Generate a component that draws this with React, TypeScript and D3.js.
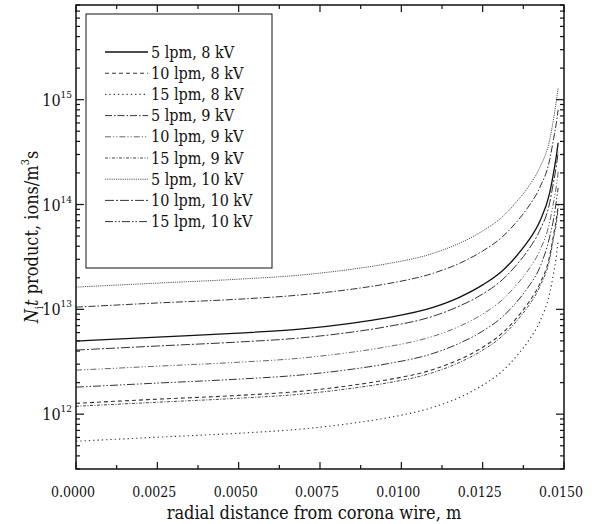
import { useMemo } from "react";
import * as d3 from "d3";

// radial positions (m) where the curves were read
const radius = [
  0, 0.0025, 0.005, 0.00688, 0.0085, 0.0095, 0.011, 0.0118, 0.0125, 0.0131, 0.01354, 0.0139, 0.01425, 0.01456,
  0.01468, 0.01477, 0.01482,
];

const lpm5kv8 = [4.98e12, 5.44e12, 5.94e12, 6.48e12, 7.4e12, 8.26e12, 1.05e13, 1.31e13, 1.71e13, 2.32e13, 3.23e13, 4.49e13, 6.84e13, 1.29e14, 2.01e14, 2.98e14, 3.88e14];
const lpm10kv8 = [1.27e12, 1.39e12, 1.51e12, 1.65e12, 1.89e12, 2.11e12, 2.68e12, 3.34e12, 4.35e12, 5.92e12, 8.23e12, 1.15e13, 1.74e13, 3.23e13, 5.12e13, 7.45e13, 9.91e13];
const lpm15kv8 = [5.52e11, 6.03e11, 6.58e11, 7.19e11, 8.2e11, 9.16e11, 1.17e12, 1.45e12, 1.89e12, 2.57e12, 3.58e12, 4.98e12, 7.58e12, 1.43e13, 2.22e13, 3.3e13, 4.59e13];
const lpm5kv9 = [1.05e13, 1.15e13, 1.25e13, 1.37e13, 1.56e13, 1.74e13, 2.22e13, 2.76e13, 3.6e13, 4.9e13, 6.81e13, 9.47e13, 1.44e14, 2.67e14, 4.23e14, 6.15e14, 8.01e14];
const lpm10kv9 = [2.63e12, 2.87e12, 3.13e12, 3.42e12, 3.91e12, 4.36e12, 5.56e12, 6.92e12, 9.01e12, 1.23e13, 1.71e13, 2.37e13, 3.61e13, 6.82e13, 1.06e14, 1.54e14, 2.05e14];
const lpm15kv9 = [1.19e12, 1.3e12, 1.42e12, 1.55e12, 1.77e12, 1.97e12, 2.51e12, 3.13e12, 4.08e12, 5.55e12, 7.72e12, 1.07e13, 1.63e13, 3.02e13, 4.8e13, 6.82e13, 9.28e13];
const lpm5kv10 = [1.63e13, 1.78e13, 1.94e13, 2.12e13, 2.42e13, 2.7e13, 3.44e13, 4.29e13, 5.59e13, 7.6e13, 1.06e14, 1.47e14, 2.24e14, 4.14e14, 6.57e14, 9.98e14, 1.3e15];
const lpm10kv10 = [4.09e12, 4.47e12, 4.88e12, 5.33e12, 6.08e12, 6.79e12, 8.64e12, 1.08e13, 1.4e13, 1.91e13, 2.65e13, 3.69e13, 5.62e13, 1.04e14, 1.65e14, 2.39e14, 3.18e14];
const lpm15kv10 = [1.81e12, 1.98e12, 2.16e12, 2.36e12, 2.69e12, 3.0e12, 3.82e12, 4.77e12, 6.2e12, 8.44e12, 1.17e13, 1.63e13, 2.49e13, 4.91e13, 7.29e13, 1.11e14, 1.44e14];

const labels = [
  "5 lpm, 8 kV",
  "10 lpm, 8 kV",
  "15 lpm, 8 kV",
  "5 lpm, 9 kV",
  "10 lpm, 9 kV",
  "15 lpm, 9 kV",
  "5 lpm, 10 kV",
  "10 lpm, 10 kV",
  "15 lpm, 10 kV",
];

const xTicks = [0, 0.0025, 0.005, 0.0075, 0.01, 0.0125, 0.015];
const yDecades = [12, 13, 14, 15];

const series = [
  { name: labels[0], values: lpm5kv8, dash: "", color: "#111", width: 1.3 },
  { name: labels[1], values: lpm10kv8, dash: "4,3", color: "#333", width: 1.1 },
  { name: labels[2], values: lpm15kv8, dash: "1.3,3", color: "#333", width: 1.1 },
  { name: labels[3], values: lpm5kv9, dash: "7,2,1.5,2", color: "#333", width: 1 },
  { name: labels[4], values: lpm10kv9, dash: "6,2,1.2,2,1.2,2", color: "#555", width: 0.9 },
  { name: labels[5], values: lpm15kv9, dash: "3,1.5,1,1.5", color: "#444", width: 1 },
  { name: labels[6], values: lpm5kv10, dash: "1.2,1", color: "#555", width: 1 },
  { name: labels[7], values: lpm10kv10, dash: "9,2,2,2", color: "#333", width: 1 },
  { name: labels[8], values: lpm15kv10, dash: "8,2,1.5,2,1.5,2", color: "#333", width: 1 },
];

const W = 592;
const H = 524;
const left = 76;
const right = 564;
const top = 5;
const bottom = 469;
const serif = '"DejaVu Serif Condensed", "DejaVu Serif", serif';

export default function App() {
  const x = d3.scaleLinear().domain([0, 0.015]).range([left, right]);
  const y = d3.scaleLog().domain([3e11, 8e15]).range([bottom, top]);

  const line = useMemo(
    () =>
      d3
        .line<[number, number]>()
        .x((d) => x(d[0]))
        .y((d) => y(d[1]))
        .curve(d3.curveMonotoneX),
    []
  );

  const minorY: number[] = [];
  for (let e = 11; e <= 15; e++) {
    for (let m = 2; m <= 9; m++) {
      const v = m * Math.pow(10, e);
      if (v >= 3e11 && v <= 8e15) minorY.push(v);
    }
  }
  const minorX = d3.range(0.00125, 0.015, 0.0025);

  const legendTop = 52;
  const legendStep = 21.2;

  return (
    <svg
      width={W}
      height={H}
      fontFamily={serif}
      style={{ position: "fixed", left: 0, top: 0, background: "#fff" }}
    >
      <rect x={0} y={0} width={W} height={H} fill="#fff" />

      {/* curves */}
      <g fill="none">
        {series.map((s) => (
          <path
            key={s.name}
            d={line(radius.map((r, i) => [r, s.values[i]]) as [number, number][]) || ""}
            stroke={s.color}
            strokeWidth={s.width}
            strokeDasharray={s.dash}
          />
        ))}
      </g>

      {/* frame */}
      <rect x={left} y={top} width={right - left} height={bottom - top} fill="none" stroke="#111" strokeWidth={1.5} />

      {/* x ticks, bottom and top */}
      <g stroke="#111" strokeWidth={1.2}>
        {xTicks.map((t) => (
          <g key={t}>
            <line x1={x(t)} x2={x(t)} y1={bottom} y2={bottom - 7} />
            <line x1={x(t)} x2={x(t)} y1={top} y2={top + 7} />
          </g>
        ))}
        {minorX.map((t) => (
          <g key={t}>
            <line x1={x(t)} x2={x(t)} y1={bottom} y2={bottom - 4} />
            <line x1={x(t)} x2={x(t)} y1={top} y2={top + 4} />
          </g>
        ))}
      </g>
      <g fontSize={14} textAnchor="middle" fill="#111" fontFamily={serif}>
        {xTicks.map((t) => (
          <text key={t} x={x(t) - 3} y={497}>
            {d3.format(".4f")(t)}
          </text>
        ))}
      </g>

      {/* y ticks, left and right */}
      <g stroke="#111" strokeWidth={1.2}>
        {yDecades.map((e) => {
          const v = Math.pow(10, e);
          return (
            <g key={e}>
              <line x1={left} x2={left + 8} y1={y(v)} y2={y(v)} />
              <line x1={right} x2={right - 8} y1={y(v)} y2={y(v)} />
            </g>
          );
        })}
        {minorY.map((v) => (
          <g key={v}>
            <line x1={left} x2={left + 4} y1={y(v)} y2={y(v)} />
            <line x1={right} x2={right - 4} y1={y(v)} y2={y(v)} />
          </g>
        ))}
      </g>
      <g fontSize={16} textAnchor="end" fill="#111" fontFamily={serif}>
        {yDecades.map((e) => (
          <text key={e} x={72} y={y(Math.pow(10, e)) + 6}>
            10
            <tspan fontSize={10} dy={-8}>
              {e}
            </tspan>
          </text>
        ))}
      </g>

      {/* axis titles */}
      <text
        x={(left + right) / 2 - 6}
        y={519}
        textAnchor="middle"
        fontSize={18}
        fill="#111"
        fontFamily={serif}
      >
        radial distance from corona wire, m
      </text>
      <text
        transform={`translate(38, ${(top + bottom) / 2}) rotate(-90)`}
        textAnchor="middle"
        fontSize={18}
        fill="#111"
        fontFamily={serif}
      >
        <tspan fontStyle="italic">N</tspan>
        <tspan fontSize={11} dy={5}>i</tspan>
        <tspan fontStyle="italic" dy={-5}>t</tspan>
        <tspan> product, ions/m</tspan>
        <tspan fontSize={11} dy={-9}>3</tspan>
        <tspan dy={9}>s</tspan>
      </text>

      {/* legend */}
      <rect x={86} y={14} width={186} height={254} fill="#fff" stroke="#111" strokeWidth={1} />
      {series.map((s, i) => {
        const ly = legendTop + i * legendStep;
        return (
          <g key={s.name}>
            <line
              x1={105}
              x2={148}
              y1={ly}
              y2={ly}
              stroke={s.color}
              strokeWidth={s.width}
              strokeDasharray={s.dash}
            />
            <text x={151} y={ly + 5.5} fontSize={16} fill="#111" fontFamily={serif}>
              {s.name}
            </text>
          </g>
        );
      })}
    </svg>
  );
}
